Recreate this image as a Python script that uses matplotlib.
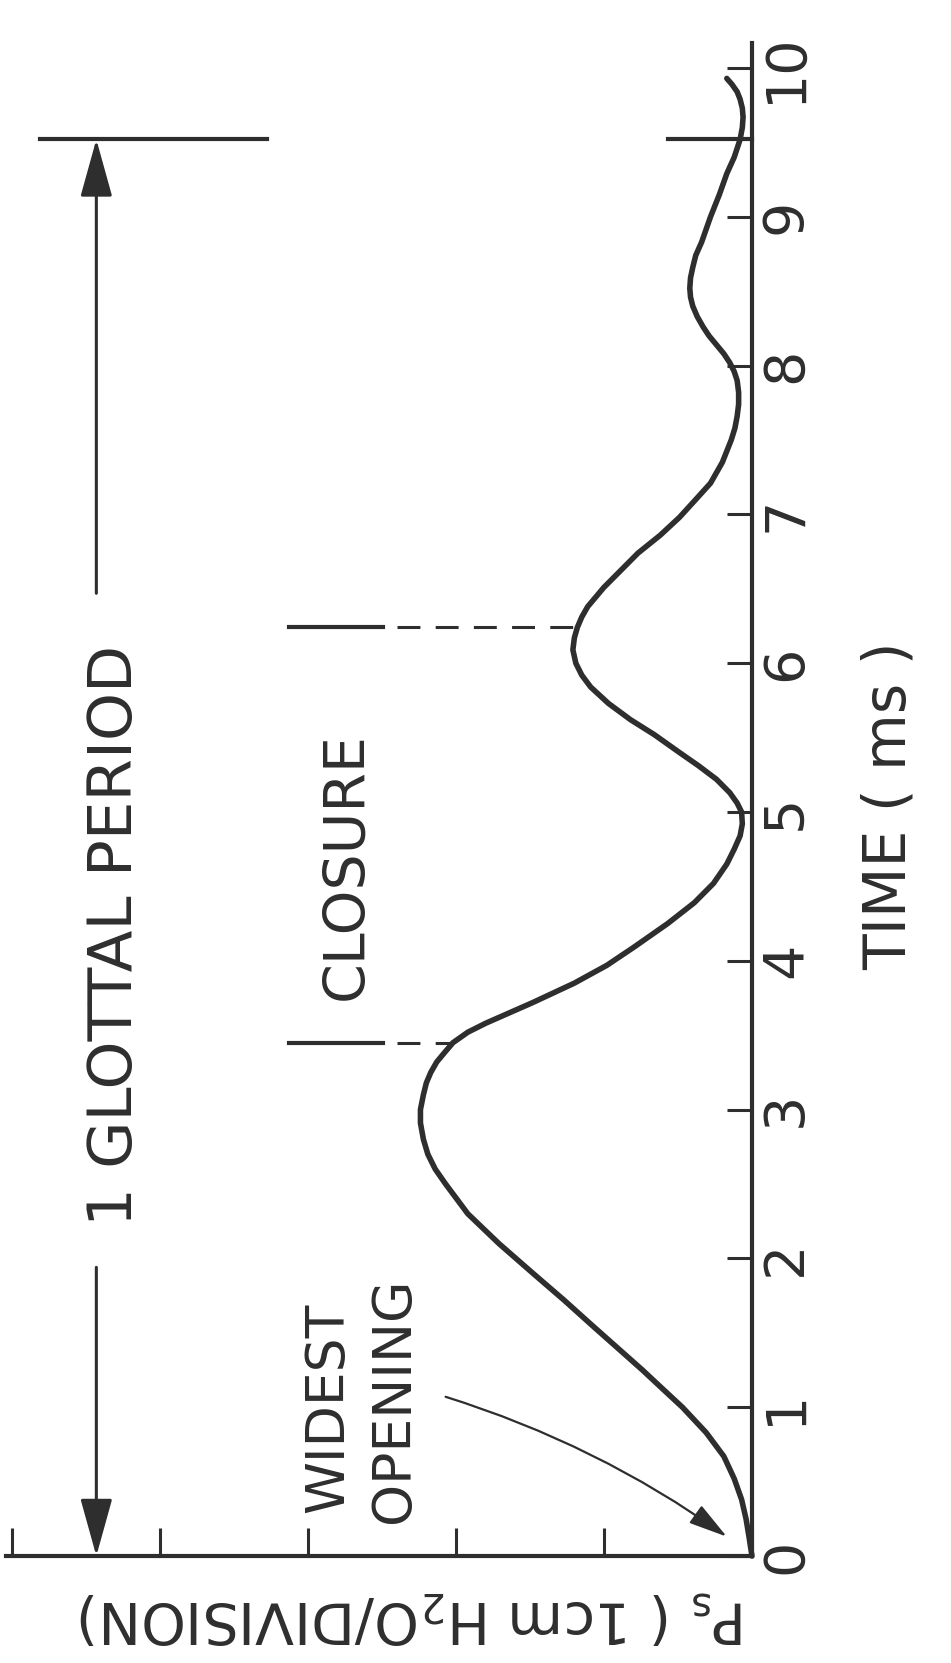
import numpy as np
import matplotlib
matplotlib.use("Agg")
import matplotlib.pyplot as plt

# subglottal pressure trace: time in ms, pressure in divisions
time_ms = [0.00, 0.13, 0.25, 0.38, 0.52, 0.67, 0.83, 1.00, 1.12, 1.25, 1.40, 1.55,
           1.72, 1.90, 2.10, 2.30, 2.50, 2.60, 2.70, 2.80, 2.91, 3.00, 3.10, 3.18,
           3.25, 3.32, 3.38, 3.45, 3.52, 3.58, 3.65, 3.72, 3.85, 3.97, 4.09, 4.25,
           4.39, 4.52, 4.65, 4.75, 4.84, 4.92, 5.00, 5.06, 5.13, 5.22, 5.31, 5.40,
           5.52, 5.62, 5.73, 5.84, 5.92, 6.00, 6.09, 6.17, 6.24, 6.31, 6.38, 6.51,
           6.62, 6.74, 6.86, 6.98, 7.10, 7.21, 7.35, 7.50, 7.58, 7.66, 7.74, 7.82,
           7.90, 7.96, 8.02, 8.08, 8.14, 8.20, 8.26, 8.33, 8.40, 8.46, 8.52, 8.59,
           8.66, 8.74, 8.83, 9.00, 9.15, 9.29, 9.40, 9.52, 9.60, 9.67, 9.73, 9.79,
           9.84, 9.89, 9.93]
pressure_div = [0.00, 0.02, 0.04, 0.07, 0.12, 0.19, 0.31, 0.47, 0.60, 0.74, 0.91, 1.08,
                1.27, 1.48, 1.71, 1.92, 2.07, 2.14, 2.19, 2.22, 2.24, 2.24, 2.22, 2.20,
                2.17, 2.13, 2.08, 2.02, 1.92, 1.80, 1.64, 1.48, 1.20, 0.98, 0.80, 0.57,
                0.39, 0.26, 0.17, 0.12, 0.08, 0.065, 0.07, 0.10, 0.15, 0.24, 0.36, 0.49,
                0.66, 0.82, 0.97, 1.09, 1.15, 1.19, 1.21, 1.20, 1.18, 1.15, 1.11, 1.00,
                0.89, 0.77, 0.62, 0.49, 0.38, 0.28, 0.20, 0.14, 0.115, 0.10, 0.09, 0.09,
                0.10, 0.12, 0.15, 0.19, 0.24, 0.29, 0.33, 0.37, 0.40, 0.415, 0.42, 0.415,
                0.40, 0.38, 0.34, 0.28, 0.22, 0.17, 0.12, 0.08, 0.065, 0.06, 0.065, 0.08,
                0.10, 0.135, 0.17]

time_ticks = list(range(11))
time_labels = [str(t) for t in time_ticks]
pressure_ticks = list(range(6))

glottal_period = [0.0, 9.52]   # start / end of one period (ms)
closure_times = [3.45, 6.24]   # closure markers (ms)
widest_opening = (0.17, 0.13)  # (p, t) where the arrow points

INK = "#2e2e2e"

fig = plt.figure(figsize=(9.51, 16.63), dpi=100)
ax = fig.add_axes([0, 0, 1, 1])
# the chart is drawn turned on its side: time runs up, pressure runs left
ax.set_xlim(5.081, -1.345)
ax.set_ylim(-0.719, 10.457)
ax.patch.set_visible(False)

for side in ("left", "top"):
    ax.spines[side].set_visible(False)
ax.spines["right"].set_position(("data", 0))
ax.spines["right"].set_bounds(0, 10.17)
ax.spines["bottom"].set_position(("data", 0))
ax.spines["bottom"].set_bounds(0, 5.04)
for side in ("right", "bottom"):
    ax.spines[side].set_linewidth(3)
    ax.spines[side].set_color(INK)

ax.yaxis.tick_right()
ax.set_yticks(time_ticks)
ax.set_yticklabels(time_labels)
ax.tick_params(axis="y", direction="in", length=18, width=2.2, color=INK, pad=5,
               labelsize=40, labelcolor=INK, labelrotation=90)
for lab in ax.get_yticklabels():
    lab.set_va("center")
ax.set_xticks(pressure_ticks)
ax.tick_params(axis="x", direction="in", length=20, width=2.2, color=INK,
               labelbottom=False)

# pressure trace
ax.plot(pressure_div, time_ms, color=INK, lw=4,
        solid_capstyle="round", solid_joinstyle="round")

# closure markers
closure_p = np.interp(closure_times, time_ms, pressure_div)
for t, cp in zip(closure_times, closure_p):
    ax.plot([3.13, 2.49], [t, t], color=INK, lw=3)
    ax.plot([2.40, cp], [t, t], color=INK, lw=2.2, ls=(0, (7.5, 5)))
ax.text(2.74, 4.64, "CLOSURE", rotation=90, ha="center", va="center",
        fontsize=41, color=INK)

# one glottal period
gp_x = 4.43
head = dict(arrowstyle="-|>,head_length=1.8,head_width=0.5", mutation_scale=20,
            lw=2.2, color=INK, shrinkA=0, shrinkB=0)
ax.annotate("", xy=(gp_x, glottal_period[1]), xytext=(gp_x, 6.47), arrowprops=head)
ax.annotate("", xy=(gp_x, glottal_period[0]), xytext=(gp_x, 1.94), arrowprops=head)
ax.plot([4.81, 3.28], [glottal_period[1]] * 2, color=INK, lw=3)
ax.plot([0.57, 0], [glottal_period[1]] * 2, color=INK, lw=3)
ax.text(4.30, 4.17, "1 GLOTTAL PERIOD", rotation=90, ha="center", va="center",
        fontsize=44, color=INK)

# widest opening
ax.annotate("", xy=widest_opening, xytext=(2.07, 1.07),
            arrowprops=dict(arrowstyle="-|>,head_length=1.2,head_width=0.33",
                            mutation_scale=20, lw=1.6, color=INK,
                            shrinkA=0, shrinkB=0,
                            connectionstyle="arc3,rad=-0.08"))
ax.text(2.86, 0.29, "WIDEST", rotation=90, rotation_mode="anchor", ha="left",
        va="center", fontsize=38.5, color=INK)
ax.text(2.42, 0.22, "OPENING", rotation=90, rotation_mode="anchor", ha="left",
        va="center", fontsize=38.5, color=INK)

# axis titles
ax.text(-0.93, 5.04, "TIME ( ms )", rotation=90, ha="center", va="center",
        fontsize=42, color=INK)
ax.text(2.29, -0.41, r"P$_\mathrm{s}$ ( 1cm H$_2$O/DIVISION)", rotation=180,
        ha="center", va="center", fontsize=41, color=INK)

fig.savefig("out.png", dpi=100)
